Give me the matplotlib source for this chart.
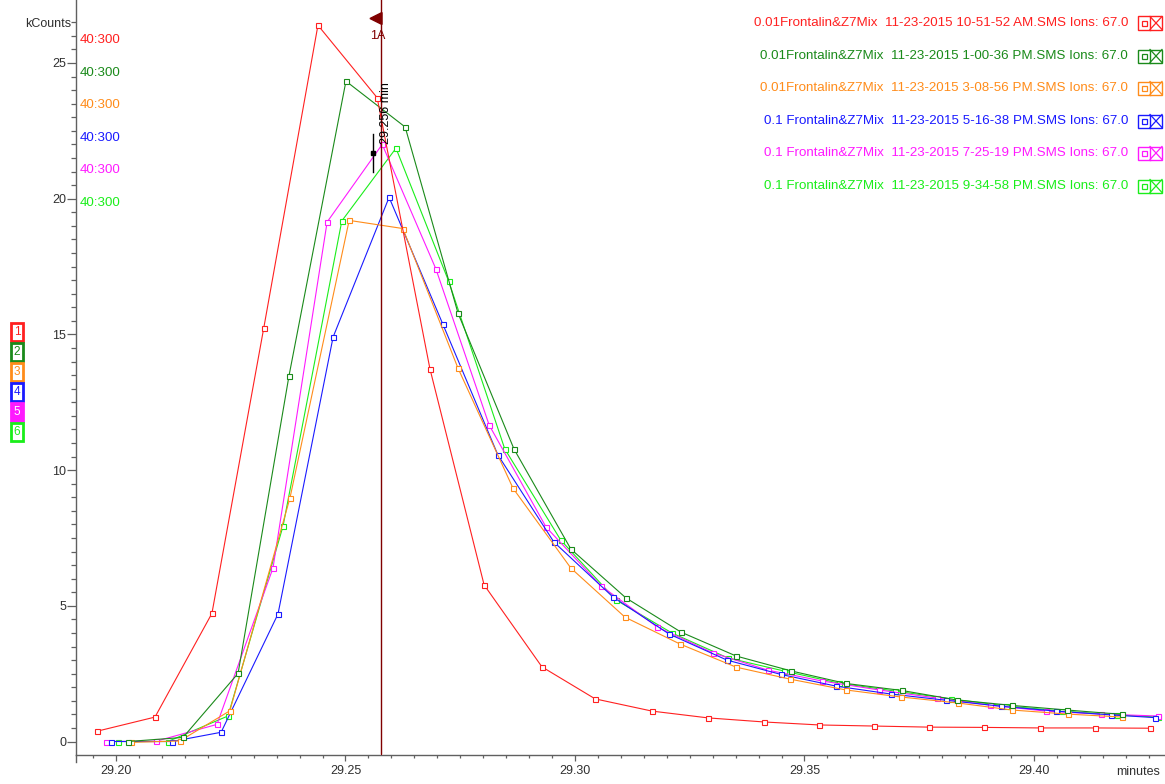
import matplotlib
matplotlib.use("Agg")
import matplotlib.pyplot as plt
from matplotlib.patches import Rectangle, Polygon
from matplotlib.lines import Line2D

# ---- data: ion 67.0 traces (time in minutes, intensity in kCounts) ----
t1 = [29.1959, 29.2085, 29.2209, 29.2322, 29.2440, 29.2569, 29.2684, 29.2802, 29.2928, 29.3044,
      29.3168, 29.3290, 29.3412, 29.3532, 29.3651, 29.3771, 29.3891, 29.4013, 29.4133, 29.4253]
y1 = [0.38, 0.90, 4.72, 15.24, 26.39, 23.72, 13.73, 5.77, 2.75, 1.57,
      1.12, 0.87, 0.72, 0.61, 0.57, 0.53, 0.52, 0.50, 0.50, 0.49]

t2 = [29.2026, 29.2146, 29.2266, 29.2377, 29.2501, 29.2630, 29.2745, 29.2867, 29.2991, 29.3111,
      29.3231, 29.3351, 29.3471, 29.3590, 29.3712, 29.3832, 29.3952, 29.4072, 29.4192]
y2 = [0.00, 0.15, 2.51, 13.48, 24.33, 22.64, 15.79, 10.78, 7.09, 5.29,
      4.03, 3.15, 2.60, 2.14, 1.88, 1.53, 1.33, 1.16, 1.00]

t3 = [29.2033, 29.2139, 29.2248, 29.2379, 29.2508, 29.2625, 29.2745, 29.2865, 29.2991, 29.3109,
      29.3229, 29.3351, 29.3468, 29.3590, 29.3710, 29.3834, 29.3952, 29.4074, 29.4192]
y3 = [-0.03, 0.02, 1.13, 8.97, 19.20, 18.90, 13.76, 9.33, 6.39, 4.58,
      3.59, 2.74, 2.30, 1.90, 1.64, 1.42, 1.16, 1.01, 0.90]

t4 = [29.1989, 29.2122, 29.2229, 29.2353, 29.2473, 29.2595, 29.2712, 29.2832, 29.2954, 29.3083,
      29.3205, 29.3331, 29.3449, 29.3569, 29.3688, 29.3808, 29.3928, 29.4048, 29.4168, 29.4264]
y4 = [0.00, 0.00, 0.34, 4.70, 14.90, 20.05, 15.38, 10.56, 7.35, 5.32,
      3.96, 3.00, 2.47, 2.04, 1.75, 1.52, 1.30, 1.12, 0.98, 0.88]

t5 = [29.1978, 29.2087, 29.2220, 29.2342, 29.2460, 29.2580, 29.2697, 29.2813, 29.2937, 29.3057,
      29.3179, 29.3301, 29.3420, 29.3538, 29.3662, 29.3789, 29.3904, 29.4026, 29.4146, 29.4270]
y5 = [0.00, 0.01, 0.63, 6.39, 19.14, 22.00, 17.41, 11.66, 7.90, 5.73,
      4.22, 3.26, 2.63, 2.23, 1.90, 1.60, 1.34, 1.12, 1.01, 0.94]

t6 = [29.2004, 29.2113, 29.2244, 29.2364, 29.2492, 29.2610, 29.2725, 29.2847, 29.2969, 29.3089,
      29.3211, 29.3333, 29.3455, 29.3575, 29.3697, 29.3819, 29.3939, 29.4061, 29.4181, 29.4270]
y6 = [0.00, 0.00, 0.94, 7.94, 19.18, 21.86, 16.95, 10.78, 7.42, 5.22,
      4.00, 3.08, 2.60, 2.15, 1.86, 1.57, 1.31, 1.12, 0.98, 0.90]

times = [t1, t2, t3, t4, t5, t6]
values = [y1, y2, y3, y4, y5, y6]

trace_names = [
    "0.01Frontalin&Z7Mix  11-23-2015 10-51-52 AM.SMS Ions: 67.0",
    "0.01Frontalin&Z7Mix  11-23-2015 1-00-36 PM.SMS Ions: 67.0",
    "0.01Frontalin&Z7Mix  11-23-2015 3-08-56 PM.SMS Ions: 67.0",
    "0.1 Frontalin&Z7Mix  11-23-2015 5-16-38 PM.SMS Ions: 67.0",
    "0.1 Frontalin&Z7Mix  11-23-2015 7-25-19 PM.SMS Ions: 67.0",
    "0.1 Frontalin&Z7Mix  11-23-2015 9-34-58 PM.SMS Ions: 67.0",
]
trace_ids = ["1", "2", "3", "4", "5", "6"]
range_label = "40:300"
x_ticks = [29.20, 29.25, 29.30, 29.35, 29.40]
x_tick_labels = ["29.20", "29.25", "29.30", "29.35", "29.40"]
y_ticks = [0, 5, 10, 15, 20, 25]
cursor_time = 29.2578
peak_time = 29.256
peak_value = 21.7

colors = ["#ff2020", "#1a8a1a", "#ff8c1a", "#1a1aff", "#ff1aff", "#1aee1a"]
cursor_color = "#800000"
axis_color = "#606060"

W, H = 1165, 784
plt.rcParams["font.family"] = ["Liberation Sans", "DejaVu Sans"]
FS = 9
FS_LEG = 9.6

fig = plt.figure(figsize=(W / 100, H / 100), dpi=100)
fig.patch.set_facecolor("white")


def fpos(x, y):
    """pixel position (from top-left) -> figure fraction"""
    return x / W, 1 - y / H


ax = fig.add_axes([76 / W, (H - 755) / H, 1 - 76 / W, 755 / H])
ax.set_xlim(29.19129, 29.42854)
ax.set_ylim(-0.497, 27.32)

for sp in ["top", "right"]:
    ax.spines[sp].set_visible(False)
for sp in ["left", "bottom"]:
    ax.spines[sp].set_color(axis_color)
    ax.spines[sp].set_linewidth(1.0)

# traces, first file drawn on top
for i in reversed(range(6)):
    ax.plot(times[i], values[i], color=colors[i], lw=0.8, marker="s", ms=3.6,
            mfc="white", mec=colors[i], mew=0.8, zorder=3 + (6 - i) * 0.1)

# axis ticks
ax.set_xticks(x_ticks)
ax.set_xticklabels(x_tick_labels)
ax.set_xticks([29.195 + 0.005 * k for k in range(47) if round((29.195 + 0.005 * k) * 100, 6) % 5 != 0], minor=True)
ax.set_yticks(y_ticks)
ax.set_yticklabels([str(v) for v in y_ticks])
ax.set_yticks([0.5 * k for k in range(54) if k % 10 != 0], minor=True)
ax.tick_params(axis="x", which="major", length=4.5, width=0.9, color=axis_color, pad=2.5,
               labelsize=FS, labelcolor="#303030")
ax.tick_params(axis="x", which="minor", length=2.2, width=0.9, color=axis_color)
ax.tick_params(axis="y", which="major", length=6.5, width=0.9, color=axis_color, pad=0.5,
               labelsize=FS, labelcolor="#303030")
ax.tick_params(axis="y", which="minor", length=3.6, width=0.9, color=axis_color)

# left spine runs slightly below the time axis
fig.add_artist(Line2D([76 / W, 76 / W], [1 - 755 / H, 1 - 762 / H], color=axis_color, lw=1.0))

fig.text(*fpos(71, 24), "kCounts", ha="right", va="center", fontsize=FS, color="#303030")
fig.text(*fpos(1160, 772), "minutes", ha="right", va="center", fontsize=FS, color="#303030")

# mass-range labels
for i in range(6):
    fig.text(*fpos(80, 40 + 32.6 * i), range_label, ha="left", va="center",
             fontsize=FS_LEG, color=colors[i])

# file captions with show/hide boxes
legend_y = [23, 56, 88, 121, 153, 186]
for i in range(6):
    yc = legend_y[i]
    fig.text(*fpos(1128, yc), trace_names[i], ha="right", va="center",
             fontsize=FS_LEG, color=colors[i])
    x0, x1, xm = 1138, 1162, 1150
    ytop, ybot = yc - 6.5, yc + 6.5
    fx0, fy0 = fpos(x0, ybot)
    fx1, fy1 = fpos(x1, ytop)
    fig.add_artist(Rectangle((fx0, fy0), fx1 - fx0, fy1 - fy0, fill=False,
                             edgecolor=colors[i], lw=1.0, transform=fig.transFigure))
    fig.add_artist(Line2D([xm / W, xm / W], [fy0, fy1], color=colors[i], lw=1.0))
    sx0, sy0 = fpos(1141.5, yc + 2.5)
    sx1, sy1 = fpos(1146.5, yc - 2.5)
    fig.add_artist(Rectangle((sx0, sy0), sx1 - sx0, sy1 - sy0, fill=False,
                             edgecolor=colors[i], lw=0.9, transform=fig.transFigure))
    fig.add_artist(Line2D([xm / W, x1 / W], [fy0, fy1], color=colors[i], lw=0.9))
    fig.add_artist(Line2D([xm / W, x1 / W], [fy1, fy0], color=colors[i], lw=0.9))

# numbered trace selector boxes
for i in range(6):
    top = 322 + 20 * i
    bx0, by0 = fpos(11, top + 19)
    bx1, by1 = fpos(23, top + 1)
    filled = trace_ids[i] == "5"
    fig.add_artist(Rectangle((bx0, by0), bx1 - bx0, by1 - by0,
                             facecolor=colors[i] if filled else "white",
                             edgecolor=colors[i], lw=2.0, transform=fig.transFigure))
    fig.text(*fpos(17, top + 10), trace_ids[i], ha="center", va="center", fontsize=8.5,
             color="white" if filled else colors[i])

# retention-time cursor
ax.axvline(cursor_time, ymin=0.0, ymax=1.0, color=cursor_color, lw=1.0, zorder=5)
ax.plot([cursor_time, cursor_time], [ax.get_ylim()[0], -0.02], color="white", lw=2.0, zorder=4.9)
tri = Polygon([fpos(370, 18.5), fpos(382, 12.5), fpos(382, 24.5)], closed=True,
              facecolor=cursor_color, edgecolor=cursor_color, transform=fig.transFigure)
fig.add_artist(tri)
fig.text(*fpos(378, 36), "1A", ha="center", va="center", fontsize=FS, color=cursor_color)

# peak apex marker and its retention time
ax.plot([peak_time, peak_time], [peak_value - 0.7, peak_value + 0.7], color="black", lw=1.0, zorder=6)
ax.plot([peak_time], [peak_value], marker="s", ms=2.5, color="black", zorder=6)
fig.text(*fpos(386, 113), f"{peak_time:.3f} min", ha="center", va="center", rotation=90,
         fontsize=FS, color="black")

fig.savefig("out.png", dpi=100, facecolor="white")
